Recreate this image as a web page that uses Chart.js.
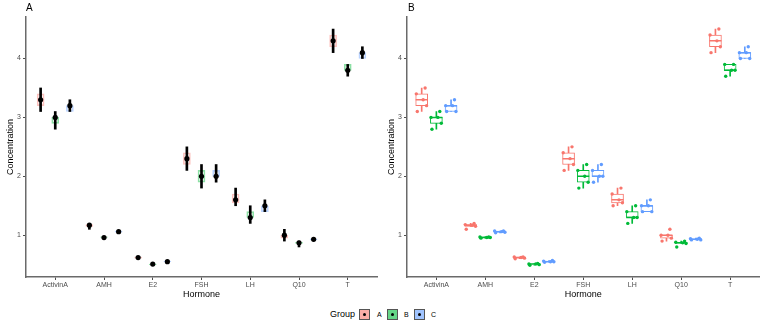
<!DOCTYPE html>
<html><head><meta charset="utf-8">
<script src="https://cdn.jsdelivr.net/npm/chart.js@4/dist/chart.umd.min.js"></script>
<style>
html,body{margin:0;padding:0;background:#fff}
body{width:767px;height:328px;position:relative;overflow:hidden;font-family:"Liberation Sans",Arial,sans-serif}
canvas{position:absolute;top:0}
#ca{left:0}
#cb{left:381px}
.tag{position:absolute;top:2px;font-size:10px;line-height:12px;color:#000}
.lg{position:absolute;color:#000}
.key{position:absolute;top:309px;width:11px;height:11px;border:1px solid #555;box-sizing:border-box}
.key::after{content:"";position:absolute;left:3px;top:3px;width:3px;height:3px;border-radius:50%;background:#000}
.kl{position:absolute;top:309px;font-size:7px;line-height:11px;color:#000}
</style>
</head><body>
<canvas id="ca" width="381" height="305"></canvas>
<canvas id="cb" width="386" height="305"></canvas>
<div class="tag" style="left:26px">A</div>
<div class="tag" style="left:408px">B</div>
<div class="lg" style="left:330px;top:309px;font-size:9px;line-height:11px">Group</div>
<div class="key" style="left:359px;background:#FAADA7"></div><div class="kl" style="left:377px">A</div>
<div class="key" style="left:387px;background:#66D688"></div><div class="kl" style="left:404px">B</div>
<div class="key" style="left:414px;background:#A0C4FF"></div><div class="kl" style="left:431px">C</div>
<script>
// ---- data ----
const hormones = ['ActivinA','AMH','E2','FSH','LH','Q10','T'];
const groups = ['A','B','C'];
// individual observations (panel B points)
const obsA = [[3.1,3.2,3.3,3.4,3.5],[1.1,1.15,1.17,1.18,1.2],[0.6,0.61,0.62,0.63,0.63],[2.1,2.2,2.3,2.4,2.5],[1.5,1.55,1.6,1.7,1.8],[0.9,0.95,1.0,1.0,1.1],[4.1,4.2,4.3,4.4,4.5]];
const obsB = [[2.8,2.9,3.0,3.0,3.1],[0.95,0.96,0.96,0.97,0.97],[0.49,0.5,0.51,0.51,0.52],[1.8,1.9,2.0,2.1,2.2],[1.2,1.3,1.3,1.4,1.5],[0.8,0.86,0.87,0.88,0.9],[3.7,3.8,3.8,3.9,3.9]];
const obsC = [[3.1,3.1,3.2,3.2,3.3],[1.04,1.05,1.06,1.07,1.07],[0.54,0.55,0.55,0.56,0.57],[1.9,2.0,2.0,2.1,2.2],[1.4,1.4,1.5,1.5,1.6],[0.92,0.92,0.93,0.94,0.95],[4.0,4.0,4.1,4.1,4.2]];
// group means (panel A points)
const meanA = [3.3,1.17,0.62,2.3,1.6,1.0,4.3];
const meanB = [3.0,0.96,0.51,2.0,1.3,0.87,3.8];
const meanC = [3.2,1.06,0.55,2.0,1.5,0.93,4.1];
const yTicks = [1,2,3,4];

// ---- layout / style ----
const F = '"Liberation Sans", Arial, sans-serif';
const colors = ['#F8766D','#00BA38','#619CFF'];
const dodge = [-0.3, 0, 0.3];
const jit = [-0.09, 0.1, 0.03, -0.11, 0.07];
const obsAll = [obsA, obsB, obsC];
const meanAll = [meanA, meanB, meanC];

function q(arr, p){
  const a = arr.slice().sort((x,y)=>x-y);
  const h = (a.length-1)*p, lo = Math.floor(h);
  return lo+1 < a.length ? a[lo] + (h-lo)*(a[lo+1]-a[lo]) : a[lo];
}
function stats(arr){
  const q1=q(arr,0.25), med=q(arr,0.5), q3=q(arr,0.75), iqr=q3-q1;
  const inside = arr.filter(v=>v>=q1-1.5*iqr && v<=q3+1.5*iqr);
  return {q1, med, q3, lo:Math.min(...inside), hi:Math.max(...inside), min:Math.min(...arr), max:Math.max(...arr)};
}
function rgba(hex,a){
  const n=parseInt(hex.slice(1),16);
  return `rgba(${n>>16},${(n>>8)&255},${n&255},${a})`;
}

function boxDatasets(g, boxW, full){
  const col = colors[g], off = dodge[g], obs = obsAll[g];
  const st = obs.map(stats);
  const ds = [];
  if (full){
    ds.push({type:'bar', grouped:false, order:6, barThickness:1, backgroundColor:col, borderWidth:0,
      data: st.map((s,i)=>({x:i+off, y:[s.lo, s.hi]}))});
  }
  ds.push({type:'bar', grouped:false, order:5, barThickness:boxW,
    backgroundColor: full ? '#ffffff' : 'rgba(0,0,0,0)', borderColor: full ? col : rgba(col,0.45),
    borderWidth:1, borderSkipped:false,
    data: st.map((s,i)=>({x:i+off, y:[s.q1, s.q3]}))});
  if (full){
    ds.push({type:'scatter', order:4, pointStyle:'line', pointRadius:boxW/2, pointBorderWidth:1.5,
      pointBorderColor:col, pointBackgroundColor:col,
      data: st.map((s,i)=>({x:i+off, y:s.med}))});
    const pts = [];
    obs.forEach((arr,i)=>arr.forEach((v,k)=>pts.push({x:i+off+jit[k], y:v})));
    ds.push({type:'scatter', order:3, pointRadius:1.7, pointBorderWidth:0,
      pointBackgroundColor:col, pointBorderColor:col, data:pts});
  }
  return ds;
}

function panelA(){
  let ds = [];
  groups.forEach((g,gi)=>{ ds = ds.concat(boxDatasets(gi, 7, false)); });
  groups.forEach((g,gi)=>{
    const st = obsAll[gi].map(stats);
    ds.push({type:'bar', grouped:false, order:1, barThickness:2, backgroundColor:'#000', borderWidth:0,
      data: st.map((s,i)=>({x:i+dodge[gi], y:[s.min, s.max]}))});
    ds.push({type:'scatter', order:0, pointRadius:2.6, pointBorderWidth:0, pointBackgroundColor:'#000',
      data: meanAll[gi].map((m,i)=>({x:i+dodge[gi], y:m}))});
  });
  return ds;
}
function panelB(){
  let ds = [];
  groups.forEach((g,gi)=>{ ds = ds.concat(boxDatasets(gi, 12, true)); });
  return ds;
}

function makeChart(id, datasets, padRight){
  return new Chart(document.getElementById(id), {
    type:'bar',
    data:{datasets},
    options:{
      responsive:false, animation:false, devicePixelRatio:1,
      layout:{padding:{top:17, right:padRight, left:0, bottom:0}},
      plugins:{legend:{display:false}, tooltip:{enabled:false}},
      scales:{
        x:{type:'linear', min:-0.6, max:6.6, offset:false,
          afterBuildTicks:(s)=>{ s.ticks = hormones.map((h,i)=>({value:i})); },
          afterFit:(s)=>{ s.height = 28; },
          ticks:{autoSkip:false, maxRotation:0, padding:1, color:'#4d4d4d', font:{size:7, family:F},
            callback:(v)=>hormones[Math.round(v)]},
          grid:{display:true, drawOnChartArea:false, drawTicks:true, tickLength:3, color:'#4d4d4d', offset:false},
          border:{display:true, color:'#6a6a6a', width:1.5},
          title:{display:true, text:'Hormone', color:'#000', font:{size:9, family:F}, padding:{top:0, bottom:5}}
        },
        y:{type:'linear', min:0.29, max:4.705,
          afterBuildTicks:(s)=>{ s.ticks = yTicks.map(v=>({value:v})); },
          afterFit:(s)=>{ s.width = 26; },
          ticks:{padding:2, color:'#4d4d4d', font:{size:7, family:F}},
          grid:{display:true, drawOnChartArea:false, drawTicks:true, tickLength:3, color:'#4d4d4d'},
          border:{display:true, color:'#6a6a6a', width:1.5},
          title:{display:true, text:'Concentration', color:'#000', font:{size:9, family:F}, padding:{top:5, bottom:0}}
        }
      }
    }
  });
}
makeChart('ca', panelA(), 3);
makeChart('cb', panelB(), 7);
</script>
</body></html>
